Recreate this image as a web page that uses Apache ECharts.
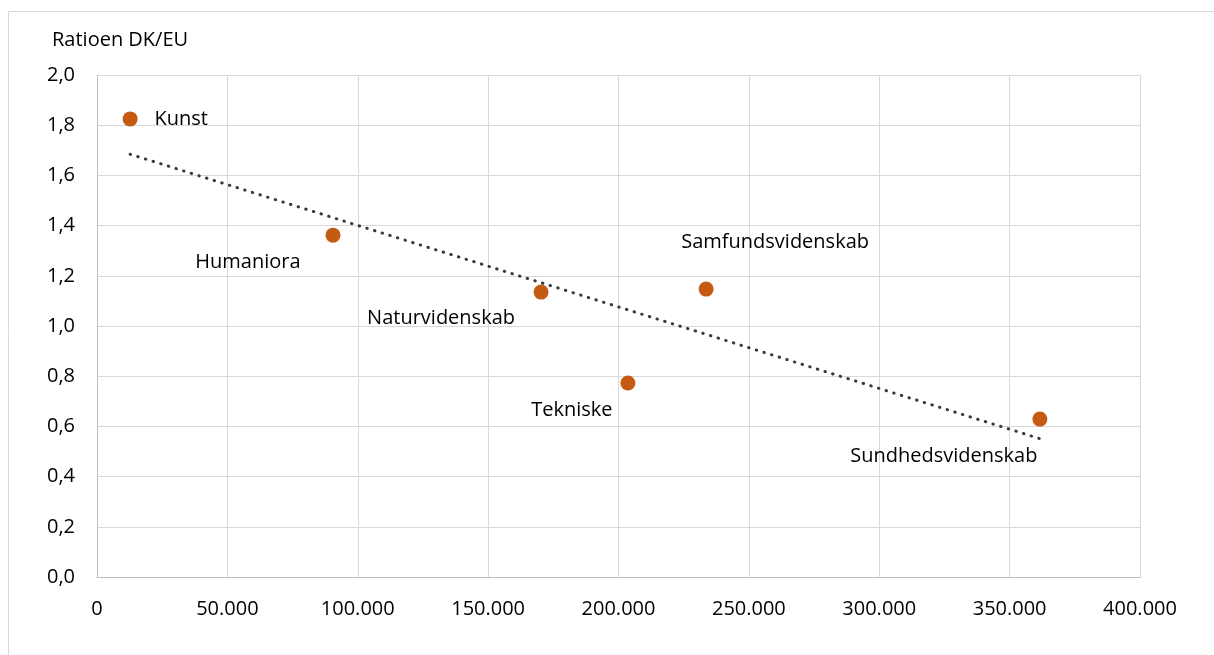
<!DOCTYPE html>
<html>
<head>
<meta charset="utf-8">
<script src="https://cdn.jsdelivr.net/npm/echarts@6/dist/echarts.min.js"></script>
<style>html,body{margin:0;padding:0;background:#fff}#c{width:1214px;height:655px}</style>
</head>
<body>
<div id="c"></div>
<script>
var categories = ["Kunst", "Humaniora", "Naturvidenskab", "Tekniske", "Samfundsvidenskab", "Sundhedsvidenskab"];
var xValues = [12700, 90500, 170300, 203600, 233600, 361600];
var yValues = [1.825, 1.362, 1.135, 0.773, 1.147, 0.629];
var xTicks = [0, 50000, 100000, 150000, 200000, 250000, 300000, 350000, 400000];
var yTicks = [0, 0.2, 0.4, 0.6, 0.8, 1.0, 1.2, 1.4, 1.6, 1.8, 2.0];
var labelOffsets = [[51, 0], [-85, 27], [-100, 26], [-56, 27], [69, -47], [-96, 37]];

// linear trendline (least squares) from data
var n = xValues.length, mx = 0, my = 0;
for (var i = 0; i < n; i++) { mx += xValues[i]; my += yValues[i]; }
mx /= n; my /= n;
var sxy = 0, sxx = 0;
for (var i = 0; i < n; i++) { sxy += (xValues[i]-mx)*(yValues[i]-my); sxx += (xValues[i]-mx)*(xValues[i]-mx); }
var slope = sxy / sxx, icpt = my - slope * mx;
var xMin = Math.min.apply(null, xValues), xMax = Math.max.apply(null, xValues);
var trend = [[xMin, icpt + slope * xMin], [xMax, icpt + slope * xMax]];

var font = "'Open Sans', 'Noto Sans', sans-serif";
var fs = 20;
var chart = echarts.init(document.getElementById('c'), null, {renderer: 'canvas'});
chart.setOption({
  animation: false,
  graphic: [{type: 'rect', shape: {x: 8.5, y: 11.5, width: 1240, height: 700}, style: {fill: 'none', stroke: '#d9d9d9', lineWidth: 1}, z: -1}],
  grid: {left: 97, right: 74, top: 75, bottom: 78, containLabel: false},
  xAxis: {
    type: 'value', min: 0, max: 400000, interval: 50000,
    axisLine: {show: true, lineStyle: {color: '#bfbfbf', width: 1}},
    axisTick: {show: false},
    splitLine: {show: true, lineStyle: {color: '#d9d9d9', width: 1}},
    axisLabel: {color: '#000', fontSize: fs, fontFamily: font, margin: 22,
      formatter: function (v) { return v === 0 ? '0' : v.toLocaleString('de-DE'); }}
  },
  yAxis: {
    type: 'value', min: 0, max: 2, interval: 0.2,
    name: 'Ratioen DK/EU', nameLocation: 'end', nameGap: 25,
    nameTextStyle: {color: '#000', fontSize: fs, fontFamily: font, align: 'left', padding: [0, 0, 0, -45]},
    axisLine: {show: true, lineStyle: {color: '#bfbfbf', width: 1}},
    axisTick: {show: false},
    splitLine: {show: true, lineStyle: {color: '#d9d9d9', width: 1}},
    axisLabel: {color: '#000', fontSize: fs, fontFamily: font, margin: 22,
      formatter: function (v) { return v.toFixed(1).replace('.', ','); }}
  },
  series: [
    {
      type: 'line', data: trend, showSymbol: false, symbol: 'none',
      lineStyle: {color: '#3a3a3a', width: 3, type: [0.5, 7.5], cap: 'round'},
      z: 2
    },
    {
      type: 'scatter', symbolSize: 15,
      itemStyle: {color: '#c55a11', opacity: 1},
      data: xValues.map(function (x, i) {
        return {value: [x, yValues[i]], name: categories[i],
          label: {show: true, position: 'inside', offset: labelOffsets[i], formatter: categories[i],
            color: '#000', fontSize: fs, fontFamily: font}};
      }),
      z: 3
    }
  ]
});
</script>
</body>
</html>
